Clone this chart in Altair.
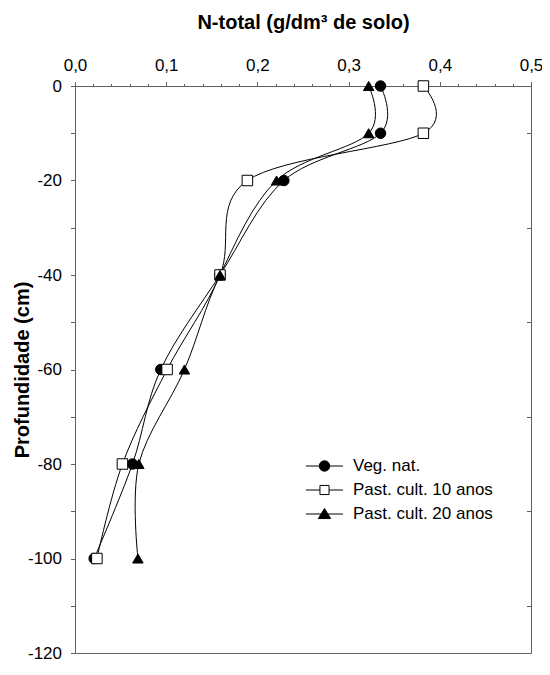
import altair as alt
import pandas as pd

# ---- data ----
depth = [0, -10, -20, -40, -60, -80, -100]
series_names = ["Veg. nat.", "Past. cult. 10 anos", "Past. cult. 20 anos"]
veg_nat = [0.335, 0.335, 0.229, 0.159, 0.094, 0.063, 0.021]
past_10 = [0.382, 0.382, 0.189, 0.159, 0.101, 0.052, 0.024]
past_20 = [0.322, 0.322, 0.221, 0.159, 0.120, 0.070, 0.069]
x_major = [0.0, 0.1, 0.2, 0.3, 0.4, 0.5]
x_minor = [0.0, 0.02, 0.04, 0.06, 0.08, 0.1, 0.12, 0.14, 0.16, 0.18, 0.2,
           0.22, 0.24, 0.26, 0.28, 0.3, 0.32, 0.34, 0.36, 0.38, 0.4,
           0.42, 0.44, 0.46, 0.48, 0.5]
y_ticks = [0, -10, -20, -30, -40, -50, -60, -70, -80, -90, -100, -110, -120]
right_ticks = [-10, -30, -50, -70, -90, -110]

rows = []
for name, vals in zip(series_names, [veg_nat, past_10, past_20]):
    for d, v in zip(depth, vals):
        rows.append({"serie": name, "depth": d, "n": v})
df = pd.DataFrame(rows)

FONT = "Liberation Sans"
AXIS_GRAY = "#606060"
W, H = 456, 567

marker_shapes = ["circle", "square", "triangle-up"]
marker_fills = ["black", "white", "black"]
legend_strokes = ["black", "black", "black"]
legend_paths = [
    "M-2.85,0L2.85,0M-0.8,0A0.8,0.8,0,1,1,0.8,0A0.8,0.8,0,1,1,-0.8,0Z",
    "M-2.85,0L-0.7,0M0.7,0L2.85,0M-0.7,-0.7L0.7,-0.7L0.7,0.7L-0.7,0.7Z",
    "M-2.85,0L2.85,0M0,-0.85L0.95,0.7L-0.95,0.7Z",
]

xscale = alt.Scale(domain=[0, 0.5], nice=False, zero=False)
yscale = alt.Scale(domain=[-120, 0], nice=False, zero=False)

x_axis = alt.Axis(
    orient="top",
    values=x_major,
    title="N-total (g/dm³ de solo)",
    titleFont=FONT, titleFontSize=20, titleFontWeight="bold", titleColor="black",
    titleBaseline="alphabetic", titleY=-58, titleX=W / 2,
    labelFont=FONT, labelFontSize=17, labelColor="black",
    labelExpr="replace(format(datum.value, '.1f'), '.', ',')",
    labelPadding=7, labelOverlap=False, labelFlush=False,
    tickSize=4.5, tickColor=AXIS_GRAY, domainColor=AXIS_GRAY, grid=False,
)

x_minor_axis = alt.Axis(
    orient="top", values=x_minor, labels=False, domain=False, title=None,
    tickSize=2.5, tickColor=AXIS_GRAY, grid=False,
)

y_axis = alt.Axis(
    orient="left",
    values=y_ticks,
    title="Profundidade (cm)",
    titleFont=FONT, titleFontSize=20, titleFontWeight="bold", titleColor="black",
    titleBaseline="alphabetic", titleX=-47, titleY=H / 2, titleAngle=-90,
    labelFont=FONT, labelFontSize=17, labelColor="black",
    labelExpr="datum.value % 20 == 0 ? '' + datum.value : ''",
    labelPadding=9, labelOverlap=False, labelFlush=False,
    tickSize=4.5, tickColor=AXIS_GRAY, domainColor=AXIS_GRAY, grid=False,
)

right_axis = alt.Axis(
    orient="right", values=right_ticks, labels=False, domain=False,
    tickSize=4.5, offset=-4.5, tickColor=AXIS_GRAY, title=None, grid=False,
)

lines = alt.Chart(df).mark_line(
    color="black", strokeWidth=1, interpolate="cardinal"
).encode(
    x=alt.X("n:Q", scale=xscale, axis=x_axis),
    y=alt.Y("depth:Q", scale=yscale, axis=y_axis),
    detail="serie:N",
    order=alt.Order("depth:Q", sort="descending"),
)

points = alt.Chart(df).mark_point(
    filled=True, stroke="black", strokeWidth=1, opacity=1, size=110
).encode(
    x=alt.X("n:Q", scale=xscale, axis=x_minor_axis),
    y=alt.Y("depth:Q", scale=yscale, axis=right_axis),
    shape=alt.Shape("serie:N", scale=alt.Scale(domain=series_names, range=marker_shapes), legend=None),
    fill=alt.Fill("serie:N", scale=alt.Scale(domain=series_names, range=marker_fills), legend=None),
)

legend_opts = dict(
    title=None, orient="none", legendX=241, legendY=371.5,
    labelFont=FONT, labelFontSize=17, labelColor="black",
    labelOffset=20, symbolSize=169, symbolStrokeWidth=1,
    rowPadding=6, padding=0,
)

legend_layer = alt.Chart(df).transform_filter("false").mark_point(
    filled=True, strokeWidth=1, opacity=1
).encode(
    shape=alt.Shape("serie:N", scale=alt.Scale(domain=series_names, range=legend_paths),
                    legend=alt.Legend(**legend_opts)),
    fill=alt.Fill("serie:N", scale=alt.Scale(domain=series_names, range=marker_fills),
                  legend=alt.Legend(**legend_opts)),
    stroke=alt.Stroke("serie:N", scale=alt.Scale(domain=series_names, range=legend_strokes),
                      legend=alt.Legend(**legend_opts)),
)

chart = alt.layer(lines, points, legend_layer).resolve_axis(
    x="independent", y="independent"
).resolve_scale(
    shape="independent", fill="independent", stroke="independent"
).properties(
    width=W, height=H,
    autosize=alt.AutoSizeParams(type="none"),
    padding={"left": 67, "top": 78, "right": 11, "bottom": 9},
    background="white",
).configure_view(
    stroke=AXIS_GRAY, strokeWidth=1
)

chart.save("out.html", embed_options={"renderer": "svg", "actions": False})
